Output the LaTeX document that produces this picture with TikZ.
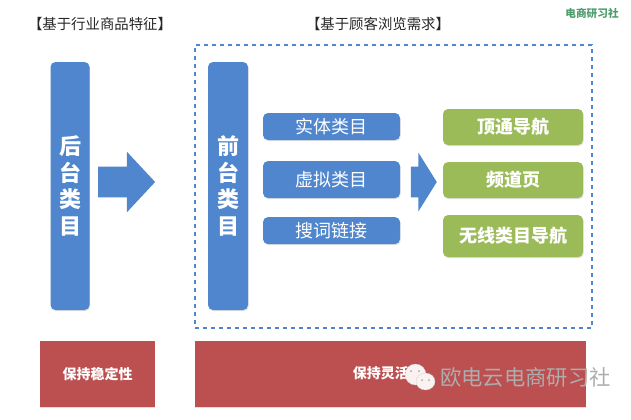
\documentclass[tikz,border=0pt]{standalone}
\usepackage{fontspec}
\setmainfont{Noto Sans CJK SC}
\usepackage{xcolor}
\usepackage{tikz}
\usetikzlibrary{arrows.meta, positioning, calc, shapes.arrows, shapes.geometric, shadows}

\def\px{0.75pt}
\definecolor{barblue}{HTML}{4F86CE}
\definecolor{leafgreen}{HTML}{9BBB59}
\definecolor{brickred}{HTML}{BC5050}
\definecolor{brandgreen}{HTML}{4E9C6E}

\begin{document}
\begin{tikzpicture}[
  x=0.75pt, y=-0.75pt,
  box/.style={rounded corners=5*\px, align=center, inner sep=0pt, text=white, drop shadow={shadow xshift=0.5pt, shadow yshift=-0.8pt, opacity=0.25}},
  bar/.style={box, fill=barblue, minimum width=39*\px, minimum height=248*\px, font=\fontsize{16.5pt}{20pt}\selectfont\bfseries},
  kind/.style={box, fill=barblue, minimum width=137*\px, font=\fontsize{13.5pt}{16pt}\selectfont},
  nav/.style={box, fill=leafgreen, minimum width=140*\px, font=\fontsize{13.5pt}{16pt}\selectfont\bfseries},
  keep/.style={fill=brickred, text=white, inner sep=0pt, minimum height=66*\px, font=\fontsize{10.5pt}{13pt}\selectfont\bfseries, drop shadow={shadow xshift=0pt, shadow yshift=-0.8pt, opacity=0.25}},
  head/.style={font=\fontsize{10.8pt}{13pt}\selectfont, text=black!85},
  fat/.style={single arrow, fill=barblue, inner xsep=0pt, inner ysep=15*\px},
  bubble/.style={ellipse, fill=white!92!brickred, draw=black!20, very thin, inner sep=0pt},
  eye/.style={circle, fill=black!35, inner sep=0pt, minimum size=2*\px},
]
\useasboundingbox (0,0) rectangle (631,419);

\node[head] (headback) at (100,24) {【基于行业商品特征】};
\node[head] (headfront) at (378,24) {【基于顾客浏览需求】};
\node[font=\fontsize{8pt}{10pt}\selectfont\bfseries, text=brandgreen] (brand) at (592,13) {电商研习社};

\node[draw=barblue, dashed, line width=1pt, minimum width=397*\px, minimum height=283*\px] (frame) at (393.5,186.5) {};

\node[bar] (back) at (70,186) {后\\台\\类\\目};
\node[bar, minimum width=40*\px] (front) at (228,186) {前\\台\\类\\目};

\node[fat, minimum height=57*\px, single arrow head extend=15*\px, single arrow tip angle=94] (bigarrow) at (119.5,182) {};

\node[kind, minimum height=27*\px] (real) at (331.5,126.5) {实体类目};
\node[kind, minimum height=37*\px, below=20.5*\px of real] (virtual) {虚拟类目};
\node[kind, minimum height=27*\px, below=18.5*\px of virtual] (search) {搜词链接};

\node[fat, minimum height=26*\px, single arrow head extend=14*\px, single arrow tip angle=116] (smallarrow) at (419,182) {};

\node[nav, minimum height=36*\px] (top) at (513,127) {顶通导航};
\node[nav, minimum height=36*\px, below=16.5*\px of top] (channel) {频道页};
\node[nav, minimum height=42*\px, below=16.5*\px of channel] (wireless) {无线类目导航};

\node[keep, minimum width=115*\px] (stable) at (97.5,374) {\raisebox{1pt}{保持稳定性}};
\node[keep, minimum width=391*\px] (flexible) at (390.5,374) {\hspace*{-4pt}\raisebox{2pt}{保持灵活性}};

\node[bubble, minimum width=21*\px, minimum height=21*\px] (chatback) at (415.5,374.5) {};
\node[eye] (eyea) at (411,371) {};
\node[eye] (eyeb) at (419,371) {};
\node[bubble, minimum width=19*\px, minimum height=17*\px] (chatfront) at (425.5,381.5) {};
\node[eye] (eyec) at (422,380) {};
\node[eye] (eyed) at (429,380) {};
\node[font=\fontsize{16pt}{18pt}\selectfont, text=black!32] (mark) at (525.5,377) {欧电云电商研习社};
\end{tikzpicture}
\end{document}
